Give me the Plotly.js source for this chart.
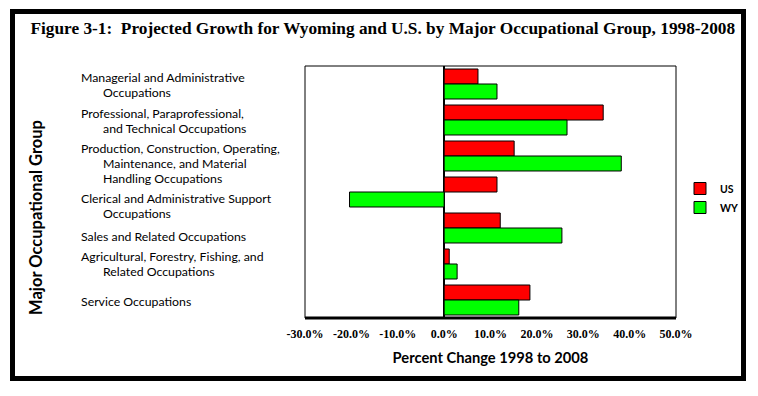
<!DOCTYPE html>
<html>
<head>
<meta charset="utf-8">
<script src="https://cdn.plot.ly/plotly-3.0.1.min.js"></script>
<style>
html,body{margin:0;padding:0;background:#fff;}
#wrap{position:relative;width:758px;height:396px;}
#chart{width:758px;height:396px;}
#frame{position:absolute;left:10px;top:9px;width:736px;height:372px;box-sizing:border-box;border:5px solid #000;pointer-events:none;}
</style>
</head>
<body>
<div id="wrap"><div id="chart"></div><div id="frame"></div></div>
<script>
// Category labels (lines of each label separated by "|"), top to bottom
const categories = [
  "Managerial and Administrative|Occupations",
  "Professional, Paraprofessional,|and Technical Occupations",
  "Production, Construction, Operating,|Maintenance, and Material|Handling Occupations",
  "Clerical and Administrative Support|Occupations",
  "Sales and Related Occupations",
  "Agricultural, Forestry, Fishing, and|Related Occupations",
  "Service Occupations"
];
// Percent change 1998 to 2008
const usValues = [7.3, 34.3, 15.1, 11.4, 12.1, 1.1, 18.5];
const wyValues = [11.4, 26.5, 38.2, -20.4, 25.4, 2.8, 16.1];
const tickValues = [-30, -20, -10, 0, 10, 20, 30, 40, 50];
const tickLabels = ["-30.0%", "-20.0%", "-10.0%", "0.0%", "10.0%", "20.0%", "30.0%", "40.0%", "50.0%"];
const seriesNames = ["US", "WY"];

// ---- layout geometry (pixels) ----
const W = 758, H = 396;
const L = 305, R = 676, T = 66, B = 318;
const pw = R - L, ph = B - T;
const px = v => (v - L) / pw;     // pixel x -> paper
const py = v => (B - v) / ph;     // pixel y -> paper
const indent = "\u00a0".repeat(7);
const labelShift = [-1, -1, -7, -14, -8, 0, -1];   // vertical nudge of each label block (px, + = up)
const lineGap = 15;

const traces = [
  {type: "bar", orientation: "h", name: seriesNames[0], y: categories, x: usValues,
   marker: {color: "#ff0000", line: {color: "#000", width: 1}}},
  {type: "bar", orientation: "h", name: seriesNames[1], y: categories, x: wyValues,
   marker: {color: "#00ff00", line: {color: "#000", width: 1}}}
];

const annotations = [];
categories.forEach((c, i) => {
  const lines = c.split("|");
  const n = lines.length;
  lines.forEach((s, k) => {
    annotations.push({
      xref: "paper", yref: "y", x: px(80), y: c, xanchor: "left", yanchor: "middle",
      align: "left", showarrow: false, borderpad: 0,
      yshift: ((n - 1) / 2 - k) * lineGap + labelShift[i],
      text: (k ? indent : "") + s,
      font: {family: "Lato", size: 12.3, color: "#000"}
    });
  });
});
annotations.push({
  xref: "paper", yref: "paper", x: px(36), y: py(218), xanchor: "center", yanchor: "middle",
  textangle: -90, showarrow: false, text: "<b>Major Occupational Group</b>",
  font: {family: "Lato", size: 16.5, color: "#000"}
});

const layout = {
  width: W, height: H,
  margin: {l: L, r: W - R, t: T, b: H - B, pad: 0},
  paper_bgcolor: "#fff", plot_bgcolor: "#fff",
  title: {text: "<b>Figure 3-1:  Projected Growth for Wyoming and U.S. by Major Occupational Group, 1998-2008</b>",
          xref: "container", yref: "container", x: 0.505, y: 1 - 28 / H, xanchor: "center", yanchor: "middle",
          font: {family: "Liberation Serif", size: 17.3, color: "#000"}},
  barmode: "group", bargap: 0.167, bargroupgap: 0,
  showlegend: true,
  legend: {x: px(680), y: py(174), xanchor: "left", yanchor: "top", bgcolor: "rgba(0,0,0,0)",
           font: {family: "Lato", size: 10.5, color: "#000", weight: "bold"}, tracegroupgap: 0},
  xaxis: {range: [-30, 50], tickvals: tickValues, ticktext: tickLabels, showgrid: false,
          zeroline: true, zerolinecolor: "#000", zerolinewidth: 2, showline: false, ticks: "",
          ticklabelstandoff: 7,
          tickfont: {family: "Liberation Serif", size: 12, color: "#000", weight: "bold"},
          title: {text: "<b>Percent Change 1998 to 2008</b>", standoff: 12,
                  font: {family: "Lato", size: 14.7, color: "#000"}}, fixedrange: true},
  yaxis: {autorange: "reversed", showticklabels: false, showgrid: false, zeroline: false,
          showline: false, ticks: "", fixedrange: true},
  annotations: annotations,
  shapes: [
    {type: "rect", xref: "paper", yref: "paper", x0: 0, x1: 1, y0: 0, y1: 1,
     line: {color: "#000", width: 1}},
    {type: "line", xref: "paper", yref: "paper", x0: 0, x1: 1, y0: 0, y1: 0,
     line: {color: "#000", width: 3}}
  ]
};

Plotly.newPlot("chart", traces, layout, {staticPlot: true, displayModeBar: false});
</script>
</body>
</html>
